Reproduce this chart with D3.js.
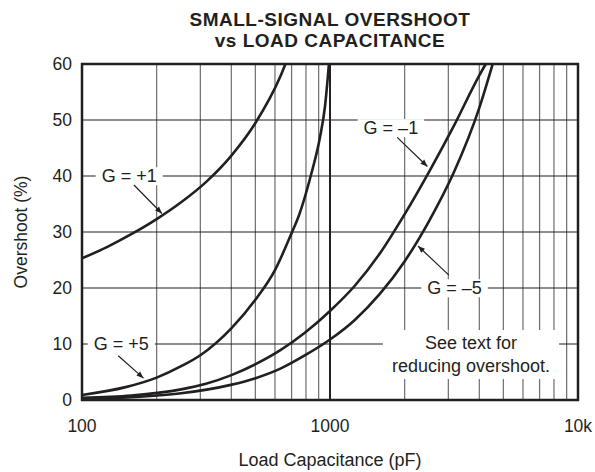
<!DOCTYPE html>
<html>
<head>
<meta charset="utf-8">
<script src="https://cdn.jsdelivr.net/npm/d3@7/dist/d3.min.js"></script>
<style>
  body { margin: 0; background: #fff; }
  svg { display: block; font-family: "Liberation Sans", Arial, Helvetica, sans-serif; }
</style>
</head>
<body>
<svg id="chart"></svg>
<script>
var width = 595;
var height = 472;
var margin = {top: 64, right: 17, bottom: 72, left: 82};

// curves: [load capacitance pF, overshoot %]
var gPlus1 = [[100, 25.3], [126, 27.3], [158, 29.6], [200, 32.3], [251, 35.3], [316, 38.9],
              [398, 43.5], [501, 49.5], [631, 57.8], [661, 60]];
var gPlus5 = [[100, 0.9], [150, 2.3], [200, 4], [250, 6], [300, 8], [400, 12.8], [500, 17.9],
              [600, 23.2], [700, 29.8], [750, 33], [836, 40], [912, 47], [955, 52.5], [990, 60]];
var gMinus1 = [[100, 0.4], [158, 0.8], [251, 1.9], [316, 2.9], [398, 4.4], [501, 6.4], [631, 8.9],
               [794, 12.05], [1000, 15.9], [1259, 20.4], [1585, 26.1], [1995, 33.1],
               [2512, 40.8], [3162, 49], [3981, 57.8], [4246, 60]];
var gMinus5 = [[100, 0.2], [158, 0.5], [251, 1.2], [398, 2.7], [501, 3.9], [631, 5.6], [794, 8.0],
               [1000, 10.8], [1259, 14.3], [1585, 18.9], [1995, 24.7], [2512, 32], [3162, 40.7],
               [3981, 51.9], [4529, 60]];

var xTicks = [100, 1000, 10000];
var xTickLabels = ["100", "1000", "10k"];
var yTicks = [0, 10, 20, 30, 40, 50, 60];
var minorX = [200, 300, 400, 500, 600, 700, 800, 900, 2000, 3000, 4000, 5000, 6000, 7000, 8000, 9000];
var titleLines = ["SMALL-SIGNAL OVERSHOOT", "vs LOAD CAPACITANCE"];

// labels: text, label centre, arrow from -> to (data coords)
var labels = [
  {text: "G = +1", at: [155, 40], from: [162, 38.4], to: [210, 33.3]},
  {text: "G = +5", at: [144, 10], from: [140, 7.9], to: [177, 3.9]},
  {text: "G = \u20131", at: [1760, 48.6], from: [1866, 46.9], to: [2470, 41.7]},
  {text: "G = \u20135", at: [3177, 20], from: [3015, 22.3], to: [2264, 27.5]}
];
var noteLines = ["See text for", "reducing overshoot."];

var x = d3.scaleLog()
    .domain([100, 10000])
    .range([margin.left, width - margin.right]);
var y = d3.scaleLinear()
    .domain([0, 60])
    .range([height - margin.bottom, margin.top]);

var svg = d3.select("#chart")
    .attr("width", width)
    .attr("height", height);

svg.append("defs").append("marker")
    .attr("id", "arrow")
    .attr("viewBox", "0 0 10 10")
    .attr("refX", 10).attr("refY", 5)
    .attr("markerWidth", 11).attr("markerHeight", 7)
    .attr("markerUnits", "userSpaceOnUse")
    .attr("orient", "auto")
  .append("path")
    .attr("d", "M0,1 L10,5 L0,9 z")
    .attr("fill", "#231f20");

// grid
svg.append("g")
  .selectAll("line")
  .data(minorX)
  .enter()
  .append("line")
    .attr("x1", function(d) { return x(d); })
    .attr("x2", function(d) { return x(d); })
    .attr("y1", y(0)).attr("y2", y(60))
    .attr("stroke", "#6d6d6d")
    .attr("stroke-width", 1.2);

svg.append("g")
  .selectAll("line")
  .data(yTicks.slice(1, -1))
  .enter()
  .append("line")
    .attr("x1", x(100)).attr("x2", x(10000))
    .attr("y1", function(d) { return y(d); })
    .attr("y2", function(d) { return y(d); })
    .attr("stroke", "#231f20")
    .attr("stroke-width", 1.1);

svg.append("line")
    .attr("x1", x(1000)).attr("x2", x(1000))
    .attr("y1", y(0)).attr("y2", y(60))
    .attr("stroke", "#231f20")
    .attr("stroke-width", 2);

// white boxes behind the labels
var boxLayer = svg.append("g");

// curves
var line = d3.line()
    .x(function(d) { return x(d[0]); })
    .y(function(d) { return y(d[1]); })
    .curve(d3.curveMonotoneX);

svg.append("g")
  .selectAll("path")
  .data([gPlus1, gPlus5, gMinus1, gMinus5])
  .enter()
  .append("path")
    .attr("d", line)
    .attr("fill", "none")
    .attr("stroke", "#231f20")
    .attr("stroke-width", 2.6);

// frame
svg.append("rect")
    .attr("x", x(100)).attr("y", y(60))
    .attr("width", x(10000) - x(100))
    .attr("height", y(0) - y(60))
    .attr("fill", "none")
    .attr("stroke", "#231f20")
    .attr("stroke-width", 2.5);

// axes text
svg.append("g")
  .selectAll("text")
  .data(yTicks)
  .enter()
  .append("text")
    .attr("x", margin.left - 10)
    .attr("y", function(d) { return y(d); })
    .attr("dy", "0.35em")
    .attr("text-anchor", "end")
    .style("font-size", "17.5px")
    .attr("fill", "#231f20")
    .text(function(d) { return d; });

svg.append("g")
  .selectAll("text")
  .data(xTicks)
  .enter()
  .append("text")
    .attr("x", function(d) { return x(d); })
    .attr("y", y(0) + 32)
    .attr("text-anchor", "middle")
    .style("font-size", "17.5px")
    .attr("fill", "#231f20")
    .text(function(d, i) { return xTickLabels[i]; });

svg.append("text")
    .attr("x", (x(100) + x(10000)) / 2)
    .attr("y", height - 6)
    .attr("text-anchor", "middle")
    .style("font-size", "18px")
    .attr("fill", "#231f20")
    .text("Load Capacitance (pF)");

svg.append("text")
    .attr("transform", "rotate(-90)")
    .attr("x", -(y(0) + y(60)) / 2)
    .attr("y", 27)
    .attr("text-anchor", "middle")
    .style("font-size", "17.5px")
    .attr("fill", "#231f20")
    .text("Overshoot (%)");

svg.append("g")
  .selectAll("text")
  .data(titleLines)
  .enter()
  .append("text")
    .attr("x", (x(100) + x(10000)) / 2)
    .attr("y", function(d, i) { return 25.5 + i * 21; })
    .attr("text-anchor", "middle")
    .style("font-size", "19px")
    .style("font-weight", "bold")
    .style("letter-spacing", "0.5px")
    .attr("fill", "#231f20")
    .text(function(d) { return d; });

// gain labels and arrows
var labelG = svg.append("g");
labels.forEach(function(l) {
  var t = labelG.append("text")
      .attr("x", x(l.at[0]))
      .attr("y", y(l.at[1]))
      .attr("dy", "0.35em")
      .attr("text-anchor", "middle")
      .style("font-size", "18px")
      .attr("fill", "#231f20")
      .text(l.text);
  var b = t.node().getBBox();
  boxLayer.append("rect")
      .attr("x", b.x - 6).attr("y", b.y + 1)
      .attr("width", b.width + 12).attr("height", b.height - 2)
      .attr("fill", "#fff");
  labelG.append("line")
      .attr("x1", x(l.from[0])).attr("y1", y(l.from[1]))
      .attr("x2", x(l.to[0])).attr("y2", y(l.to[1]))
      .attr("stroke", "#231f20")
      .attr("stroke-width", 1.2)
      .attr("marker-end", "url(#arrow)");
});

var note = labelG.append("text")
    .attr("x", x(3704))
    .attr("text-anchor", "middle")
    .style("font-size", "18px")
    .attr("fill", "#231f20");
note.selectAll("tspan")
  .data(noteLines)
  .enter()
  .append("tspan")
    .attr("x", x(3704))
    .attr("y", function(d, i) { return y(9.1) + i * 23; })
    .text(function(d) { return d; });
var nb = note.node().getBBox();
boxLayer.append("rect")
    .attr("x", nb.x - 9).attr("y", nb.y - 3)
    .attr("width", nb.width + 18).attr("height", nb.height + 6)
    .attr("fill", "#fff");
</script>
</body>
</html>
